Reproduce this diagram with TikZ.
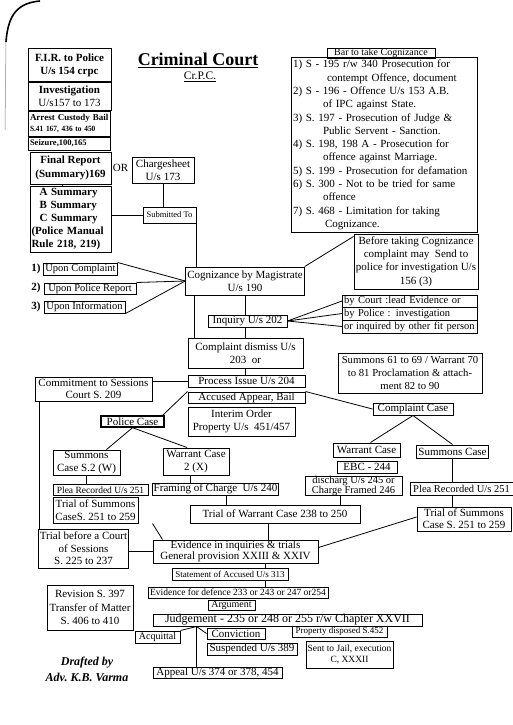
\documentclass[tikz,border=0pt]{standalone}
\usepackage{fontspec}
\usepackage{graphicx}
\setmainfont{Liberation Serif}
\newcommand{\fsz}[2]{\fontsize{#1}{#2}\selectfont}
\tikzset{
  bx/.style={draw, line width=1pt, inner xsep=1.5pt, inner ysep=0.5pt, align=center, font=\fsz{11}{13.3}},
  ln/.style={line width=0.8pt},
}
\begin{document}
\begin{tikzpicture}[x=1pt,y=-1pt]
\useasboundingbox (0,0) rectangle (513,725);
\fill[white] (0,0) rectangle (513,725);
% scan edge
\draw[line width=1.6pt] (40,1) .. controls (18,3) and (8,14) .. (6,42);
\draw[line width=0.5pt,gray] (6,42) -- (5,130);
% title
\node[font=\bfseries\fsz{18}{20}] (title) at (198,60) {\underline{Criminal Court}};
\node[font=\fsz{11.5}{13}] (crpc) at (200,77) {\underline{Cr.P.C.}};
% left column
\node[bx,font=\bfseries\fsz{11}{13},minimum width=83pt,minimum height=32pt] (fir) at (69.5,65) {F.I.R. to Police\\U/s 154 crpc};
\node[bx,minimum width=83pt,minimum height=28pt] (inv) at (69.5,96) {\textbf{Investigation}\\U/s157 to 173};
\node[bx,align=left,text width=79pt,minimum height=25pt,font=\bfseries\fsz{9}{11}] (arr) at (69.5,123.5) {Arrest Custody Bail\\{\fsz{8}{9}\scalebox{0.92}[1]{S.41 167, 436 to 450}}};
\node[bx,align=left,text width=79pt,minimum height=13pt,font=\bfseries\fsz{8.5}{10}] (seiz) at (69.5,143.5) {Seizure,100,165};
\node[bx,font=\bfseries\fsz{11}{13.3},minimum width=81pt,minimum height=32pt] (final) at (70.5,168) {Final Report\\(Summary)169};
\node[font=\fsz{11}{13}] (or) at (120.5,168) {OR};
\node[bx,minimum width=62pt,minimum height=26pt] (charge) at (163,170) {Chargesheet\\U/s 173};
\node[bx,align=left,text width=78pt,minimum height=66pt,font=\bfseries\fsz{11}{13.1}] (summ) at (70.5,219) {\hspace*{8pt}A Summary\\\hspace*{8pt}B Summary\\\hspace*{8pt}C Summary\\(Police Manual\\Rule 218, 219)};
\node[bx,font=\fsz{8.5}{10},minimum width=53pt,minimum height=16pt] (sub) at (169.5,215) {Submitted To};
% cognizance
\node[bx,minimum width=116pt,minimum height=28pt] (cog) at (245,281) {Cognizance by Magistrate\\U/s 190};
\node[bx,font=\fsz{10.5}{12},minimum width=73pt,minimum height=12pt] (upc) at (80.5,269) {Upon Complaint};
\node[bx,font=\fsz{10.5}{12},minimum width=92pt,minimum height=11pt] (upr) at (90,288.5) {Upon Police Report};
\node[bx,font=\fsz{10.5}{12},minimum width=81pt,minimum height=12pt] (upi) at (84.5,307) {Upon Information};
\node[font=\bfseries\fsz{11}{13}] (n1) at (36,269) {1)};
\node[font=\bfseries\fsz{11}{13}] (n2) at (36,288) {2)};
\node[font=\bfseries\fsz{11}{13}] (n3) at (36,307) {3)};
% bar
\node[bx,font=\fsz{10}{11},minimum width=108pt,minimum height=10pt,inner ysep=0pt] (bar) at (381,53.5) {Bar to take Cognizance};
\node[bx,align=left,text width=182pt,minimum height=174pt,inner xsep=2pt] (bl) at (384,145) {1) S - 195 r/w 340 Prosecution for\\
\hspace*{34pt}contempt Offence, document\\
2) S - 196 - Offence U/s 153 A.B.\\
\hspace*{30pt}of IPC against State.\\
3) S. 197 - Prosecution of Judge \&\\
\hspace*{30pt}Public Servent - Sanction.\\
4) S. 198, 198 A - Prosecution for\\
\hspace*{30pt}offence against Marriage.\\
5) S. 199 - Prosecution for defamation\\
6) S. 300 - Not to be tried for same\\
\hspace*{30pt}offence\\
7) S. 468 - Limitation for taking\\
\hspace*{32pt}Cognizance.};
\node[bx,minimum width=124pt,minimum height=55pt] (bef) at (416,261.5) {Before taking Cognizance\\complaint may\ \ Send to\\police for investigation U/s\\156 (3)};
\node[bx,minimum width=79pt,minimum height=12pt] (inq) at (247.5,321) {Inquiry U/s 202};
\node[bx,align=left,text width=132pt,minimum height=12pt,font=\fsz{10.5}{12}] (bc1) at (410,301) {by Court :lead Evidence or};
\node[bx,align=left,text width=132pt,minimum height=13pt,font=\fsz{10.5}{12}] (bc2) at (410,313.5) {by Police : investigation};
\node[bx,align=left,text width=132pt,minimum height=13pt,font=\fsz{10.5}{12}] (bc3) at (410,326.5) {or inquired by other fit person};
\node[bx,minimum width=115pt,minimum height=30pt] (dis) at (245.5,353) {Complaint dismiss U/s\\203\ \ or};
\node[bx,font=\fsz{10.7}{13.3},minimum width=144pt,minimum height=40pt] (sm70) at (410,373) {Summons 61 to 69 / Warrant 70\\to 81 Proclamation \& attach-\\ment 82 to 90};
\node[bx,minimum width=117pt,minimum height=12pt] (proc) at (246.5,381) {Process Issue U/s 204};
\node[bx,minimum width=117pt,minimum height=24pt,font=\fsz{11}{12}] (comm) at (93.5,389) {Commitment to Sessions\\Court S. 209};
\node[bx,minimum width=117pt,minimum height=11pt] (acc) at (246.5,397.5) {Accused Appear, Bail};
\node[bx,minimum width=107pt,minimum height=29pt] (int) at (241.5,421.5) {Interim Order\\Property U/s\ \ 451/457};
\node[bx,line width=1.4pt,minimum width=63pt,minimum height=11pt] (pol) at (132.5,421.5) {Police Case};
\node[bx,minimum width=80pt,minimum height=12pt] (cmp) at (413,409) {Complaint Case};
\node[bx,minimum width=67pt,minimum height=25pt,font=\fsz{11}{12.5}] (sumw) at (86.5,462.5) {Summons\\Case S.2 (W)};
\node[bx,minimum width=66pt,minimum height=27pt] (warx) at (196,461.5) {Warrant Case\\2 (X)};
\node[bx,minimum width=67pt,minimum height=14pt] (warr) at (366.5,450) {Warrant Case};
\node[bx,minimum width=71pt,minimum height=13pt] (sumr) at (452.5,451.5) {Summons Case};
\node[bx,minimum width=60pt,minimum height=12pt] (ebc) at (367,467) {EBC - 244};
\node[bx,minimum width=97pt,minimum height=19pt,inner ysep=0pt,font=\fsz{10.5}{10}] (disch) at (353.5,486) {discharg U/s 245 or\\Charge Framed 246};
\node[bx,font=\fsz{10.5}{12},minimum width=103pt,minimum height=13pt] (plear) at (461.5,488.5) {Plea Recorded U/s 251};
\node[bx,minimum width=94pt,minimum height=24pt,font=\fsz{11}{12}] (tsumr) at (464,519) {Trial of Summons\\Case S. 251 to 259};
\node[bx,minimum width=125pt,minimum height=12pt] (frm) at (215.5,489) {Framing of Charge\ \ U/s 240};
\node[bx,font=\fsz{9.5}{11},minimum width=95pt,minimum height=11pt] (plea) at (100.5,490) {Plea Recorded U/s 251};
\node[bx,minimum width=85pt,minimum height=26pt,font=\fsz{11}{12.5}] (tsuml) at (95.5,510) {Trial of Summons\\CaseS. 251 to 259};
\node[bx,minimum width=170pt,minimum height=18pt] (twar) at (275,514) {Trial of Warrant Case 238 to 250};
\node[bx,minimum width=89pt,minimum height=39pt,font=\fsz{11}{12.5}] (tbc) at (83.5,548.5) {Trial before a Court\\of Sessions\\S. 225 to 237};
\node[bx,minimum width=165pt,minimum height=23pt,font=\fsz{11}{11.5}] (evid) at (235.5,551.5) {Evidence in inquiries \& trials\\General provision XXIII \& XXIV};
\node[bx,font=\fsz{9}{10},minimum width=116pt,minimum height=12pt] (stmt) at (230,574) {Statement of Accused U/s 313};
\node[bx,font=\fsz{9.5}{10},minimum width=180pt,minimum height=11pt,inner xsep=0.5pt] (def) at (238,592.5) {Evidence for defence 233 or 243 or 247 or254};
\node[bx,font=\fsz{10}{10},minimum width=47pt,minimum height=10pt,inner ysep=0pt] (arg) at (231.5,605) {Argument};
\node[bx,font=\fsz{12}{13},minimum width=269pt,minimum height=12pt,inner ysep=0pt] (judg) at (287.5,620) {Judgement - 235 or 248 or 255 r/w Chapter XXVII};
\node[bx,font=\fsz{10}{11},minimum width=45pt,minimum height=12pt] (acq) at (157.5,637) {Acquittal};
\node[bx,minimum width=58pt,minimum height=11pt] (conv) at (236,633.5) {Conviction};
\node[bx,minimum width=90pt,minimum height=12pt] (susp) at (252,649) {Suspended U/s 389};
\node[bx,font=\fsz{9}{10},minimum width=95pt,minimum height=11pt] (prop) at (339.5,631.5) {Property disposed S.452};
\node[bx,font=\fsz{9.5}{11},minimum width=87pt,minimum height=27pt] (jail) at (349.5,654.5) {Sent to Jail, execution\\C, XXXII};
\node[bx,minimum width=129pt,minimum height=11pt] (app) at (217.5,672.5) {Appeal U/s 374 or 378, 454};
\node[bx,minimum width=86pt,minimum height=45pt,font=\fsz{11}{13.5}] (rev) at (90,607.5) {Revision S. 397\\Transfer of Matter\\S. 406 to 410};
\node[font=\bfseries\itshape\fsz{12}{14}] (dr1) at (87,663) {Drafted by};
\node[font=\bfseries\itshape\fsz{12}{14}] (dr2) at (87,677) {Adv.\ K.B.\ Varma};
% connectors
\draw[ln] ([xshift=-8pt]final.south) -- ([xshift=-8pt]final.south |- summ.north);
\draw[ln] (summ.east |- sub.west) -- (sub.west);
\draw[ln] (charge.south) -- (charge.south |- sub.north);
\draw[ln] (sub.south east) -- (sub.south east |- cog.north);
\draw[ln] (upc.north east) -- (cog.west);
\draw[ln] (upr.north east) -- (cog.west);
\draw[ln] (upi.south east) -- (cog.west);
\draw[ln] (cog.north east) -- ([yshift=-3pt]bef.north west);
\draw[ln] (cog.south) -- (cog.south |- inq.north);
\draw[ln] ([xshift=9pt]cog.south west) -- ([xshift=9pt]cog.south west |- dis.north);
\draw[ln] (cog.south |- inq.south) -- (cog.south |- dis.north);
\draw[ln] (inq.east) -- (bc1.west);
\draw[ln] (inq.east) -- (bc2.west);
\draw[ln] (inq.east) -- (bc3.west);
\draw[ln] (cog.south |- dis.south) -- (cog.south |- proc.north);
\draw[ln] (comm.east |- proc.west) -- (proc.west);
\draw[ln] ([xshift=5pt]comm.south west) -- ([xshift=5pt]comm.south west |- tbc.north);
\draw[ln] ([xshift=-2pt]pol.north east) -- (acc.north west);
\draw[ln] (acc.north east) -- (cmp.west);
\draw[ln] (cmp.south) -- ([xshift=4pt]warr.north);
\draw[ln] (cmp.south) -- (sumr.north);
\draw[ln] (pol.south) -- ([xshift=20pt]sumw.north);
\draw[ln] (pol.south) -- ([xshift=-9pt]warx.north);
\draw[ln] (sumw.south) -- (sumw.south |- plea.north);
\draw[ln] ([xshift=-6pt]warx.south) -- ([xshift=-6pt]warx.south |- frm.north);
\draw[ln] (sumr.south) -- (sumr.south |- plear.north);
\draw[ln] (sumr.south |- plear.south) -- (sumr.south |- tsumr.north);
\draw[ln] ([yshift=2pt]tsumr.west) -- ([yshift=4pt]evid.east);
\draw[ln] ([xshift=11pt]frm.south) -- ([xshift=11pt]frm.south |- twar.north);
\draw[ln] ([xshift=-13.5pt]disch.south) -- ([xshift=-13.5pt]disch.south |- twar.north);
\draw[ln] ([xshift=-7pt]twar.south) -- ([xshift=-7pt]twar.south |- evid.north);
\draw[ln] ([xshift=14pt]tsuml.south east) -- ([xshift=10pt]evid.north west);
\draw[ln] (tbc.east |- evid.west) -- (evid.west);
\draw[ln] ([xshift=29.5pt]evid.south) -- ([xshift=29.5pt]evid.south |- stmt.north);
\draw[ln] ([xshift=29.5pt]evid.south |- stmt.south) -- ([xshift=29.5pt]evid.south |- def.north);
\coordinate (jb) at ([xshift=-91pt]judg.south);
\draw[ln] (jb) -- (acq.north east);
\draw[ln] (jb) -- (conv.west);
\draw[ln] (jb) -- (jb |- app.north);
\end{tikzpicture}
\end{document}
